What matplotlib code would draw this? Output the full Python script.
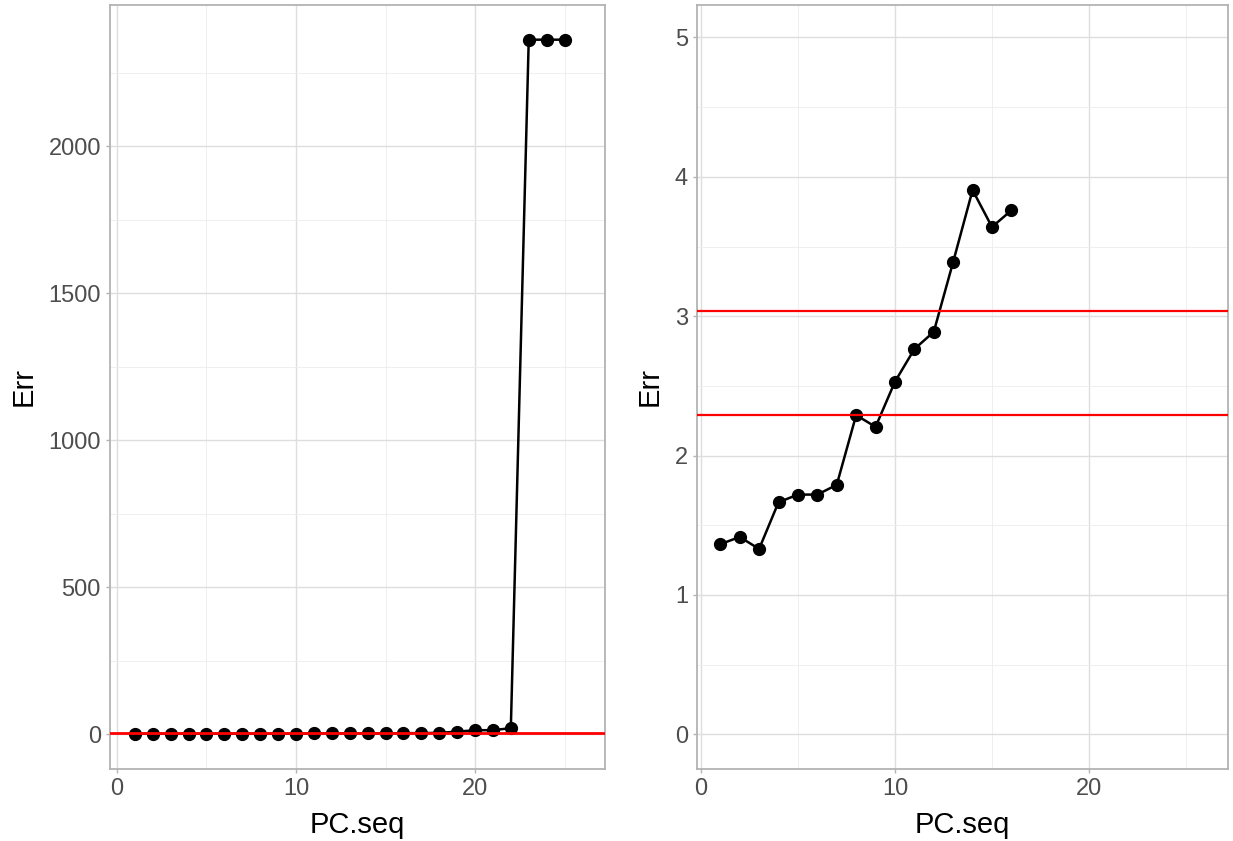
import matplotlib
matplotlib.use("Agg")
import matplotlib.pyplot as plt
from matplotlib.ticker import MultipleLocator

# Left panel data
pc_left = list(range(1, 26))
err_left = [1, 1, 1, 1, 1, 1, 1, 1, 1, 1, 2, 2, 2, 2, 2, 3, 3, 4, 8, 13, 13, 20, 2362, 2362, 2362]
hline_left = [2.5]

# Right panel data
pc_right = list(range(1, 17))
err_right = [1.364, 1.416, 1.33, 1.665, 1.72, 1.72, 1.79, 2.29, 2.206, 2.53, 2.764, 2.888, 3.39, 3.905, 3.64, 3.76]
hlines_right = [2.29, 3.037]

plt.rcParams['font.family'] = ['Liberation Sans', 'DejaVu Sans']

W, H = 1233, 841
fig = plt.figure(figsize=(W / 100, H / 100), dpi=100)

def make_ax(x0, x1, y0, y1):
    return fig.add_axes([x0 / W, 1 - y1 / H, (x1 - x0) / W, (y1 - y0) / H])

axL = make_ax(110, 605, 5, 769)
axR = make_ax(697, 1228, 5, 769)

grid_major = '#DEDEDE'
grid_minor = '#EDEDED'
border = '#B3B3B3'

def style(ax):
    ax.set_facecolor('white')
    for s in ax.spines.values():
        s.set_color(border)
        s.set_linewidth(1.3)
    ax.grid(which='major', color=grid_major, linewidth=1.0, zorder=0)
    ax.grid(which='minor', color=grid_minor, linewidth=0.6, zorder=0)
    ax.set_axisbelow(True)
    ax.tick_params(which='major', length=3, color=border, labelsize=17, labelcolor='#4D4D4D', width=1, pad=3.5)
    ax.tick_params(which='minor', length=0)
    ax.set_xlabel('PC.seq', fontsize=21, color='black', labelpad=8)
    ax.set_ylabel('Err', fontsize=21, color='black', labelpad=8)

# Left
style(axL)
axL.plot(pc_left, err_left, color='black', lw=1.8, marker='o', ms=8.5, zorder=3)
for h in hline_left:
    axL.axhline(h, color='#FF0000', lw=2, zorder=4)
axL.set_xlim(-0.39, 27.26)
axL.set_ylim(-119, 2480)
axL.xaxis.set_major_locator(MultipleLocator(10))
axL.xaxis.set_minor_locator(MultipleLocator(5))
axL.yaxis.set_major_locator(MultipleLocator(500))
axL.yaxis.set_minor_locator(MultipleLocator(250))

# Right
style(axR)
axR.plot(pc_right, err_right, color='black', lw=1.8, marker='o', ms=8.5, zorder=3)
for h in hlines_right:
    axR.axhline(h, color='#FF0000', lw=1.6, zorder=4)
axR.set_xlim(-0.2, 27.16)
axR.set_ylim(-0.249, 5.233)
axR.xaxis.set_major_locator(MultipleLocator(10))
axR.xaxis.set_minor_locator(MultipleLocator(5))
axR.yaxis.set_major_locator(MultipleLocator(1))
axR.yaxis.set_minor_locator(MultipleLocator(0.5))

fig.savefig('out.png', dpi=100)
